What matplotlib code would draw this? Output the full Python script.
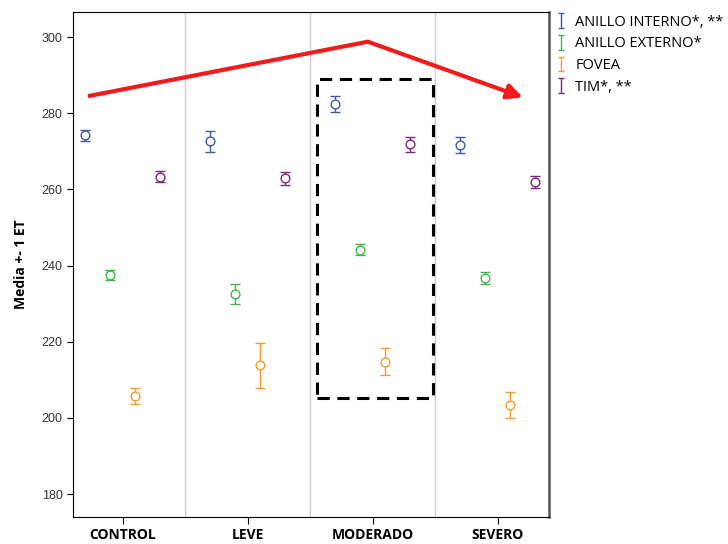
import matplotlib
matplotlib.use("Agg")
import matplotlib.pyplot as plt
from matplotlib.patches import Rectangle

grupos = ["CONTROL", "LEVE", "MODERADO", "SEVERO"]
series = ["ANILLO INTERNO*, **", "ANILLO EXTERNO*", "FOVEA", "TIM*, **"]
colores = ["#4058A8", "#3CB94A", "#F59C2A", "#7A2A7E"]

# media y error (1 ET) por grupo
medias = {
    "ANILLO INTERNO*, **": [274.2, 272.6, 282.4, 271.7],
    "ANILLO EXTERNO*": [237.5, 232.6, 244.2, 236.7],
    "FOVEA": [205.8, 213.8, 214.8, 203.4],
    "TIM*, **": [263.4, 263.0, 271.9, 262.0],
}
errores = {
    "ANILLO INTERNO*, **": [1.5, 2.7, 2.1, 2.0],
    "ANILLO EXTERNO*": [1.4, 2.6, 1.5, 1.5],
    "FOVEA": [2.0, 5.9, 3.5, 3.4],
    "TIM*, **": [1.5, 1.7, 2.0, 1.6],
}
desplaz = [-0.3, -0.1, 0.1, 0.3]

plt.rcParams["font.family"] = ["Open Sans", "DejaVu Sans"]

fig = plt.figure(figsize=(7.28, 5.44), dpi=100)
ax = fig.add_axes([73/728, 1-517/544, (549-73)/728, (517-12)/544])

x = list(range(len(grupos)))
for s, c, d in zip(series, colores, desplaz):
    ax.errorbar([xi + d for xi in x], medias[s], yerr=errores[s], fmt="o",
                mfc="white", mec=c, ecolor=c, mew=1.0, ms=6.3, capsize=3.5,
                elinewidth=1.0, capthick=1.0, zorder=3)

# manejadores de la leyenda (solo la barra de error, fuera de la vista)
handles = []
for c in colores:
    h = ax.errorbar([0], [100], yerr=[1], fmt="none", ecolor=c, capsize=2.5,
                    elinewidth=1.0, capthick=1.0)
    handles.append(h)

# lineas separadoras
for b in [0.5, 1.5, 2.5]:
    ax.axvline(b, color="#cccccc", lw=1, zorder=1)

# recuadro discontinuo
ax.add_patch(Rectangle((1.55, 205.2), 0.93, 83.8, fill=False, ls=(0, (4, 2.5)),
                       lw=2.2, ec="black", zorder=4))

# flecha roja
ax.plot([-0.28, 1.96], [284.5, 298.8], color="#F21A1A", lw=3, solid_capstyle="butt", zorder=5)
ax.annotate("", xy=(3.2, 284.2), xytext=(1.96, 298.8),
            arrowprops=dict(arrowstyle="-|>,head_length=0.9,head_width=0.45",
                            color="#F21A1A", lw=3, shrinkA=0, shrinkB=0), zorder=5)

ax.set_xlim(-0.4, 3.41)
ax.set_ylim(174, 306.6)
ax.set_xticks(x)
ax.set_xticklabels(grupos, fontsize=10, fontweight="bold")
ax.set_yticks([180, 200, 220, 240, 260, 280, 300])
ax.tick_params(axis="y", labelsize=9, labelcolor="#333333", length=4)
ax.tick_params(axis="x", length=5, pad=3)
for tl in ax.get_yticklabels():
    tl.set_fontfamily("Liberation Sans")
ax.set_ylabel("Media +- 1 ET", fontsize=10, fontweight="bold", labelpad=10)
ax.spines["right"].set_color("#555555")
ax.spines["right"].set_linewidth(1.8)

fig.legend(handles, series, loc="upper left", bbox_to_anchor=(549/728, 1-9/544),
           frameon=False, fontsize=10.5, handlelength=0.9, handletextpad=0.5,
           labelspacing=0.45, borderaxespad=0)

fig.savefig("out.png", dpi=100)
